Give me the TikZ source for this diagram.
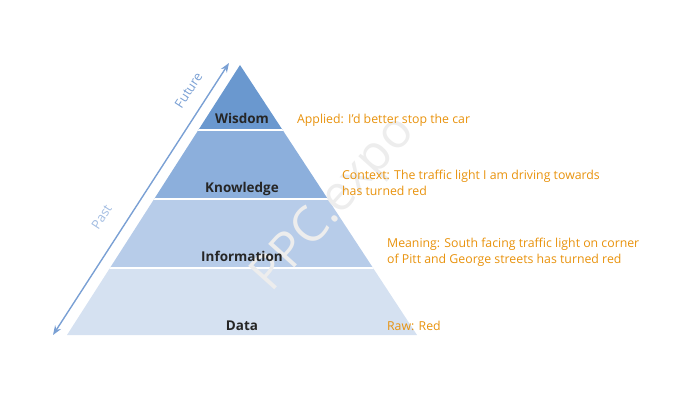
\documentclass[tikz,border=0pt]{standalone}
\usepackage{fontspec}
\setmainfont{Open Sans}
\usetikzlibrary{arrows.meta}
\definecolor{wisdomblue}{HTML}{6A98CF}
\definecolor{knowblue}{HTML}{8CAFDC}
\definecolor{infoblue}{HTML}{B7CCE9}
\definecolor{datablue}{HTML}{D5E1F1}
\definecolor{timeblue}{HTML}{7AA0D4}
\definecolor{noteorange}{HTML}{E8920C}
\tikzset{
  level/.style={font=\fontsize{11.5}{13}\selectfont\bfseries, text=black!85, anchor=base},
  note/.style={font=\fontsize{10.5}{13.5}\selectfont, text=noteorange, anchor=base west, align=left},
  time/.style={font=\fontsize{11}{12}\selectfont, rotate=57, anchor=south}
}
\begin{document}
\begin{tikzpicture}[x=0.03cm,y=-0.03cm]
    \useasboundingbox (0,0) rectangle (698,400);
    % pyramid layers
    \begin{scope}
      \clip (240,65) -- (417,335) -- (67,335) -- cycle;
      \fill[wisdomblue] (0,60) rectangle (698,130);
      \fill[knowblue] (0,130) rectangle (698,199);
      \fill[infoblue] (0,199) rectangle (698,268);
      \fill[datablue] (0,268) rectangle (698,340);
      \foreach \y in {130,199,268}
        \draw[white,line width=2.5pt] (0,\y) -- (698,\y);
    \end{scope}
    % watermark
    \node[rotate=48, font=\fontsize{42}{42}\selectfont, text=black!7] (mark) at (335,205) {PPC.expo};
    % levels
    \node[level] (wisdom) at (242,124) {Wisdom};
    \node[level] (knowledge) at (242,193) {Knowledge};
    \node[level] (information) at (242,262) {Information};
    \node[level] (data) at (242,330) {Data};
    % notes
    \node[note] (applied) at (293,124) {Applied: I’d better stop the car};
    \node[note, anchor=north west] (context) at (338,166) {Context: The traffic light I am driving towards\\has turned red};
    \node[note, anchor=north west] (meaning) at (383,234) {Meaning: South facing traffic light on corner\\of Pitt and George streets has turned red};
    \node[note] (raw) at (383,330) {Raw: Red};
    % time arrow
    \coordinate (past) at (53,335);
    \coordinate (future) at (229,63);
    \draw[timeblue, line width=1.2pt, {Stealth[length=8pt,width=6pt]}-{Stealth[length=8pt,width=6pt]}] (past) -- (future);
    \node[time, text=timeblue!70] (pastlabel) at (109,222) {Past};
    \node[time, text=timeblue] (futurelabel) at (196,95) {Future};
\end{tikzpicture}
\end{document}
